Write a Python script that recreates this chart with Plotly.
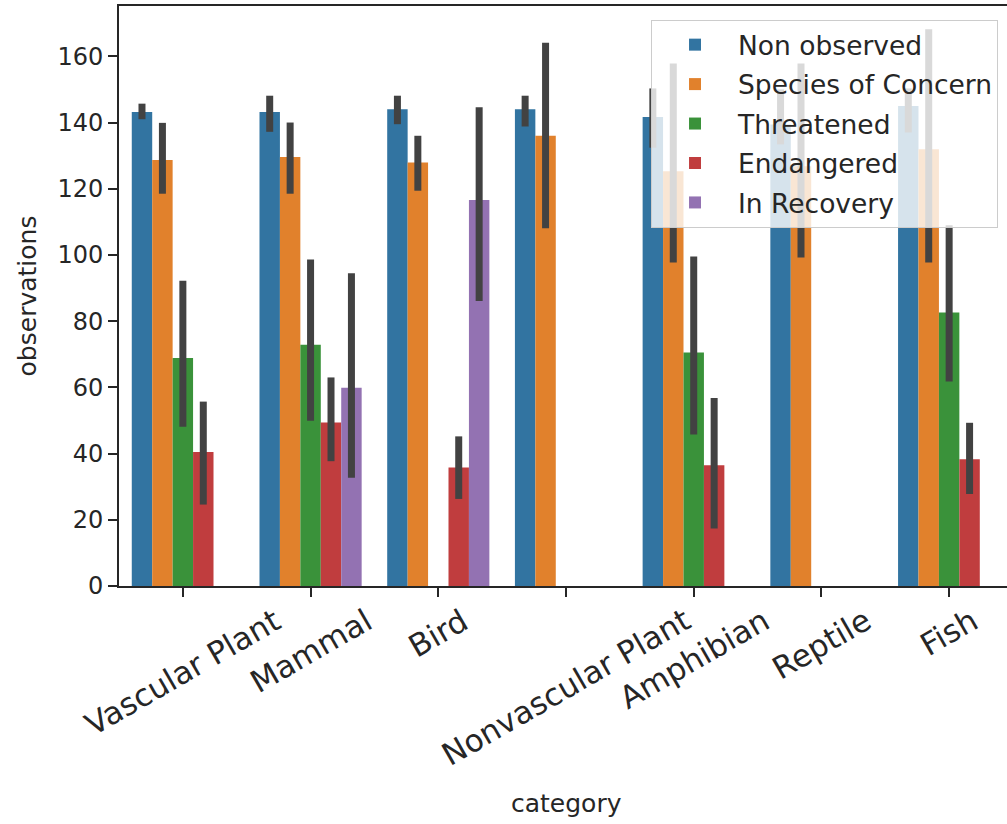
import plotly.graph_objects as go

categories = ['Vascular Plant', 'Mammal', 'Bird', 'Nonvascular Plant', 'Amphibian', 'Reptile', 'Fish']
statuses = ['Non observed', 'Species of Concern', 'Threatened', 'Endangered', 'In Recovery']
colors = ['#3274a1', '#e1812c', '#3a923a', '#c03d3e', '#9372b2']

non_observed = [143.2, 143.2, 144.0, 144.0, 141.7, 139.4, 145.0]
non_observed_lo = [141.0, 137.2, 139.5, 138.8, 132.4, 133.4, 137.0]
non_observed_hi = [145.7, 148.1, 148.1, 148.1, 150.3, 150.0, 150.3]

species_of_concern = [128.7, 129.6, 127.9, 136.0, 125.3, 126.8, 131.9]
species_of_concern_lo = [118.5, 118.5, 119.4, 108.1, 97.7, 99.2, 97.7]
species_of_concern_hi = [139.9, 140.0, 136.0, 164.1, 157.8, 157.8, 168.2]

threatened = [68.9, 72.9, None, None, 70.5, None, 82.6]
threatened_lo = [48.1, 49.9, None, None, 45.8, None, 61.8]
threatened_hi = [92.2, 98.6, None, None, 99.5, None, 109.0]

endangered = [40.5, 49.4, 35.8, None, 36.5, None, 38.3]
endangered_lo = [24.6, 37.7, 26.3, None, 17.4, None, 27.8]
endangered_hi = [55.7, 63.0, 45.2, None, 56.8, None, 49.3]

in_recovery = [None, 59.9, 116.6, None, None, None, None]
in_recovery_lo = [None, 32.7, 86.1, None, None, None, None]
in_recovery_hi = [None, 94.5, 144.6, None, None, None, None]

series = [
    (non_observed, non_observed_lo, non_observed_hi),
    (species_of_concern, species_of_concern_lo, species_of_concern_hi),
    (threatened, threatened_lo, threatened_hi),
    (endangered, endangered_lo, endangered_hi),
    (in_recovery, in_recovery_lo, in_recovery_hi),
]

FONT = 'DejaVu Sans'
TXT = '#262626'

fig = go.Figure()
xs = list(range(len(categories)))
for name, color, (m, lo, hi) in zip(statuses, colors, series):
    up = [None if v is None else h - v for v, h in zip(m, hi)]
    dn = [None if v is None else v - l for v, l in zip(m, lo)]
    fig.add_trace(go.Bar(
        x=xs, y=m, name=name, legendgroup=name,
        marker=dict(color=color, line=dict(width=0)),
        error_y=dict(type='data', symmetric=False, array=up, arrayminus=dn,
                     color='#424242', thickness=7, width=0),
    ))

annotations = []
for i, c in enumerate(categories):
    annotations.append(dict(
        x=i, y=0, xref='x', yref='paper', text=c, showarrow=False,
        textangle=-30, xanchor='center', yanchor='top', yshift=-13,
        font=dict(family=FONT, size=31, color=TXT),
    ))
annotations.append(dict(
    x=3, y=0, xref='x', yref='paper', text='category', showarrow=False,
    xanchor='center', yanchor='top', yshift=-201,
    font=dict(family=FONT, size=25, color=TXT),
))

fig.update_layout(
    width=1007, height=824,
    margin=dict(l=119, r=0, t=6, b=238),
    paper_bgcolor='white', plot_bgcolor='white',
    barmode='group', bargap=0.2, bargroupgap=0,
    font=dict(family=FONT, size=25, color=TXT),
    showlegend=True,
    legend=dict(
        x=0.9899, y=0.976, xanchor='right', yanchor='top',
        bgcolor='rgba(255,255,255,0.8)', bordercolor='#cccccc', borderwidth=1,
        font=dict(family=FONT, size=26.5, color=TXT), traceorder='grouped',
        tracegroupgap=2, itemwidth=76,
    ),
    annotations=annotations,
)
fig.update_xaxes(
    range=[-0.5, 6.453], tickmode='array', tickvals=xs, showticklabels=False,
    ticks='outside', ticklen=9, tickwidth=2, tickcolor=TXT,
    showline=True, linecolor=TXT, linewidth=2, mirror=True,
    showgrid=False, zeroline=False,
)
fig.update_yaxes(
    range=[0, 175.2], tickmode='array', tickvals=list(range(0, 161, 20)),
    ticks='outside', ticklen=9, tickwidth=2, tickcolor=TXT,
    showline=True, linecolor=TXT, linewidth=2,
    showgrid=False, zeroline=False,
    title=dict(text='observations', standoff=14, font=dict(family=FONT, size=25, color=TXT)),
    tickfont=dict(family=FONT, size=24, color=TXT),
)

fig.write_html('out.html', config={'displayModeBar': False},
               post_script="document.body.style.margin='0px';")
